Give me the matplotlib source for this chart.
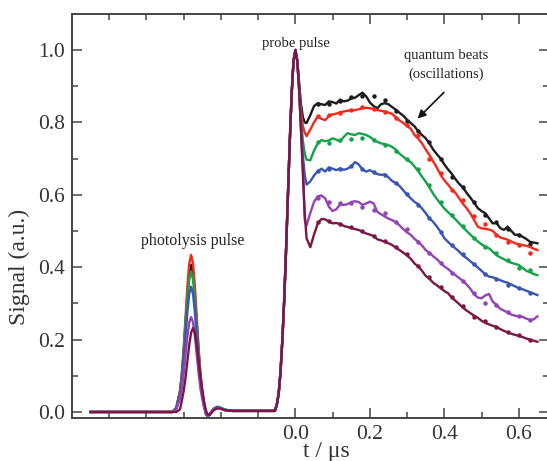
import matplotlib
matplotlib.use("Agg")
import matplotlib.pyplot as plt
from matplotlib.ticker import FixedLocator, FormatStrFormatter
import numpy as np

matplotlib.rcParams['font.family'] = 'Liberation Serif'

# --------------------------------------
# Data
# --------------------------------------
# photolysis pulse region
t_photo = [-0.55, -0.33, -0.32, -0.31, -0.305, -0.30, -0.295, -0.29, -0.285, -0.28,
           -0.275, -0.27, -0.265, -0.26, -0.255, -0.25, -0.245, -0.24, -0.235, -0.23,
           -0.22, -0.21, -0.20, -0.19, -0.17]
# probe pulse region
t_probe = [-0.055, -0.05, -0.045, -0.04, -0.035, -0.03, -0.025, -0.02, -0.015, -0.01,
           -0.005, 0.0, 0.005, 0.01, 0.015, 0.02, 0.025]
# after the probe pulse (fit curves)
t_post = np.linspace(0.03, 0.65, 63)
# measured points
t_dots = np.linspace(0.06, 0.63, 20)

colors = ["#1c1c1c", "#f5281c", "#14a34a", "#3a55b4", "#9243b5", "#7c1745"]

photo_black = [0.0, 0.0, 0.011, 0.055, 0.101, 0.167, 0.246, 0.325, 0.384, 0.406, 0.384, 0.325, 0.246,
               0.167, 0.101, 0.055, 0.018, -0.006, -0.012, -0.006, 0.008, 0.013, 0.010, 0.006, 0.003]
photo_red = [0.0, 0.0, 0.012, 0.059, 0.108, 0.178, 0.263, 0.348, 0.410, 0.434, 0.410, 0.348, 0.263,
             0.178, 0.108, 0.059, 0.020, -0.005, -0.012, -0.006, 0.008, 0.013, 0.010, 0.006, 0.003]
photo_green = [0.0, 0.0, 0.011, 0.052, 0.097, 0.159, 0.236, 0.311, 0.367, 0.388, 0.367, 0.311, 0.236,
               0.159, 0.097, 0.052, 0.017, -0.006, -0.012, -0.006, 0.009, 0.015, 0.012, 0.007, 0.003]
photo_blue = [0.0, 0.0, 0.010, 0.047, 0.086, 0.142, 0.210, 0.277, 0.327, 0.346, 0.327, 0.277, 0.210,
              0.142, 0.086, 0.047, 0.015, -0.006, -0.013, -0.007, 0.008, 0.013, 0.010, 0.006, 0.003]
photo_purple = [0.0, 0.0, 0.007, 0.035, 0.065, 0.108, 0.159, 0.210, 0.248, 0.262, 0.248, 0.210, 0.159,
                0.108, 0.065, 0.035, 0.012, -0.006, -0.012, -0.006, 0.007, 0.012, 0.009, 0.005, 0.003]
photo_maroon = [0.0, 0.0, 0.0, 0.007, 0.031, 0.058, 0.095, 0.141, 0.186, 0.219, 0.232, 0.219, 0.186,
                0.141, 0.095, 0.058, 0.028, 0.004, -0.008, -0.008, 0.004, 0.010, 0.009, 0.005, 0.003]

probe_black = [0.003, 0.02, 0.05, 0.11, 0.20, 0.31, 0.45, 0.60, 0.75, 0.88, 0.97, 1.0, 0.97, 0.91, 0.85, 0.815, 0.80]
probe_red = [0.003, 0.02, 0.05, 0.11, 0.20, 0.31, 0.45, 0.60, 0.75, 0.88, 0.97, 1.0, 0.97, 0.90, 0.83, 0.79, 0.772]
probe_green = [0.003, 0.02, 0.05, 0.11, 0.20, 0.31, 0.45, 0.60, 0.75, 0.88, 0.97, 1.0, 0.97, 0.90, 0.81, 0.75, 0.715]
probe_blue = [0.003, 0.02, 0.05, 0.11, 0.20, 0.31, 0.45, 0.60, 0.75, 0.88, 0.97, 1.0, 0.97, 0.89, 0.79, 0.71, 0.655]
probe_purple = [0.003, 0.02, 0.05, 0.11, 0.20, 0.31, 0.45, 0.60, 0.75, 0.88, 0.97, 1.0, 0.97, 0.89, 0.78, 0.68, 0.53]
probe_maroon = [0.003, 0.02, 0.05, 0.11, 0.20, 0.31, 0.45, 0.60, 0.75, 0.88, 0.97, 1.0, 0.97, 0.89, 0.78, 0.66, 0.55]

post_black = [0.798, 0.820, 0.845, 0.853, 0.850, 0.848, 0.858, 0.856, 0.852, 0.863,
              0.858, 0.860, 0.866, 0.868, 0.875, 0.882, 0.872, 0.855, 0.845, 0.839,
              0.850, 0.853, 0.850, 0.842, 0.835, 0.826, 0.818, 0.807, 0.798, 0.789,
              0.775, 0.765, 0.756, 0.742, 0.725, 0.712, 0.700, 0.684, 0.670, 0.658,
              0.643, 0.630, 0.620, 0.605, 0.592, 0.578, 0.563, 0.555, 0.549, 0.535,
              0.521, 0.522, 0.508, 0.503, 0.512, 0.500, 0.489, 0.490, 0.484, 0.478,
              0.470, 0.468, 0.466]
post_red = [0.762, 0.780, 0.800, 0.816, 0.810, 0.806, 0.818, 0.822, 0.824, 0.828,
            0.830, 0.832, 0.834, 0.834, 0.836, 0.839, 0.840, 0.839, 0.837, 0.834,
            0.832, 0.830, 0.827, 0.823, 0.814, 0.805, 0.798, 0.790, 0.782, 0.765,
            0.755, 0.742, 0.725, 0.710, 0.692, 0.675, 0.655, 0.640, 0.628, 0.615,
            0.605, 0.590, 0.575, 0.563, 0.548, 0.530, 0.512, 0.507, 0.506, 0.504,
            0.500, 0.490, 0.482, 0.479, 0.476, 0.471, 0.466, 0.463, 0.461, 0.459,
            0.456, 0.451, 0.447]
post_green = [0.697, 0.695, 0.722, 0.742, 0.751, 0.748, 0.750, 0.756, 0.752, 0.747,
              0.760, 0.770, 0.767, 0.765, 0.770, 0.768, 0.765, 0.760, 0.752, 0.746,
              0.742, 0.740, 0.737, 0.732, 0.724, 0.713, 0.705, 0.696, 0.690, 0.678,
              0.665, 0.650, 0.636, 0.620, 0.603, 0.588, 0.575, 0.562, 0.552, 0.542,
              0.532, 0.521, 0.510, 0.500, 0.490, 0.480, 0.471, 0.463, 0.457, 0.452,
              0.443, 0.433, 0.427, 0.422, 0.416, 0.412, 0.409, 0.406, 0.398, 0.390,
              0.386, 0.381, 0.378]
post_blue = [0.628, 0.637, 0.653, 0.665, 0.672, 0.664, 0.676, 0.672, 0.668, 0.673,
             0.669, 0.672, 0.679, 0.690, 0.684, 0.670, 0.664, 0.668, 0.662, 0.657,
             0.655, 0.656, 0.648, 0.638, 0.632, 0.624, 0.612, 0.600, 0.590, 0.580,
             0.574, 0.562, 0.549, 0.535, 0.525, 0.512, 0.498, 0.480, 0.470, 0.460,
             0.452, 0.443, 0.432, 0.425, 0.416, 0.408, 0.399, 0.390, 0.380, 0.374,
             0.372, 0.368, 0.364, 0.360, 0.357, 0.352, 0.347, 0.342, 0.339, 0.335,
             0.331, 0.327, 0.323]
post_purple = [0.515, 0.550, 0.580, 0.596, 0.598, 0.590, 0.567, 0.555, 0.560, 0.573,
               0.572, 0.574, 0.580, 0.582, 0.580, 0.572, 0.576, 0.581, 0.576, 0.553,
               0.546, 0.540, 0.534, 0.530, 0.524, 0.515, 0.505, 0.496, 0.489, 0.478,
               0.470, 0.460, 0.447, 0.440, 0.430, 0.422, 0.412, 0.402, 0.395, 0.386,
               0.378, 0.370, 0.362, 0.352, 0.340, 0.325, 0.316, 0.314, 0.322, 0.326,
               0.305, 0.296, 0.285, 0.280, 0.275, 0.269, 0.266, 0.264, 0.263, 0.258,
               0.254, 0.256, 0.264]
post_maroon = [0.480, 0.455, 0.490, 0.520, 0.533, 0.532, 0.526, 0.521, 0.522, 0.519,
               0.514, 0.511, 0.508, 0.505, 0.503, 0.498, 0.493, 0.490, 0.486, 0.477,
               0.474, 0.470, 0.466, 0.461, 0.454, 0.447, 0.440, 0.432, 0.423, 0.410,
               0.402, 0.390, 0.376, 0.368, 0.357, 0.350, 0.342, 0.334, 0.328, 0.316,
               0.307, 0.298, 0.288, 0.280, 0.273, 0.266, 0.260, 0.252, 0.246, 0.242,
               0.238, 0.235, 0.229, 0.224, 0.220, 0.216, 0.213, 0.210, 0.207, 0.203,
               0.200, 0.197, 0.194]

dots_black = [0.850, 0.852, 0.860, 0.870, 0.874, 0.872, 0.862, 0.832, 0.805, 0.775,
              0.745, 0.700, 0.650, 0.622, 0.580, 0.545, 0.525, 0.505, 0.488, 0.465]
dots_red = [0.818, 0.820, 0.826, 0.835, 0.842, 0.838, 0.828, 0.812, 0.792, 0.765,
            0.700, 0.660, 0.612, 0.585, 0.540, 0.520, 0.490, 0.470, 0.460, 0.440]
dots_green = [0.745, 0.744, 0.750, 0.755, 0.757, 0.750, 0.738, 0.722, 0.700, 0.672,
              0.628, 0.580, 0.545, 0.515, 0.480, 0.455, 0.438, 0.420, 0.398, 0.392]
dots_blue = [0.665, 0.672, 0.672, 0.680, 0.672, 0.663, 0.655, 0.632, 0.602, 0.572,
             0.535, 0.498, 0.462, 0.435, 0.408, 0.382, 0.368, 0.352, 0.342, 0.330]
dots_purple = [0.590, 0.581, 0.576, 0.576, 0.567, 0.558, 0.549, 0.525, 0.505, 0.470,
               0.440, 0.412, 0.385, 0.362, 0.330, 0.300, 0.295, 0.275, 0.265, 0.255]
dots_maroon = [0.525, 0.527, 0.520, 0.510, 0.500, 0.487, 0.472, 0.455, 0.435, 0.402,
               0.372, 0.345, 0.318, 0.292, 0.262, 0.250, 0.235, 0.220, 0.212, 0.200]

photo = [photo_black, photo_red, photo_green, photo_blue, photo_purple, photo_maroon]
probe = [probe_black, probe_red, probe_green, probe_blue, probe_purple, probe_maroon]
post = [post_black, post_red, post_green, post_blue, post_purple, post_maroon]
dots = [dots_black, dots_red, dots_green, dots_blue, dots_purple, dots_maroon]

# --------------------------------------
# Plot
# --------------------------------------
fig = plt.figure(figsize=(5.47, 4.61), dpi=100)
ax = fig.add_axes([0.1316, 0.0933, 0.872, 0.8764])

t_all = np.concatenate([t_photo, t_probe, t_post])
for c, p1, p2, p3, d in zip(colors, photo, probe, post, dots):
    y_all = np.concatenate([p1, p2, p3])
    ax.plot(t_all, y_all, color=c, lw=1.7, solid_joinstyle="round")
    ax.plot(t_dots, d, "o", color=c, ms=3.2, mec="none")

ax.set_xlim(-0.600, 0.681)
ax.set_ylim(-0.0166, 1.0994)

ax.xaxis.set_major_locator(FixedLocator([0.0, 0.2, 0.4, 0.6]))
ax.xaxis.set_minor_locator(FixedLocator([-0.5, -0.4, -0.3, -0.2, -0.1, 0.1, 0.3, 0.5]))
ax.yaxis.set_major_locator(FixedLocator([0.0, 0.2, 0.4, 0.6, 0.8, 1.0]))
ax.yaxis.set_minor_locator(FixedLocator([0.1, 0.3, 0.5, 0.7, 0.9]))
ax.xaxis.set_major_formatter(FormatStrFormatter("%.1f"))
ax.yaxis.set_major_formatter(FormatStrFormatter("%.1f"))

ax.tick_params(which="both", direction="in", top=True, right=True,
               color="#444444", labelcolor="#333333", labelsize=15.5, width=1.1)
ax.tick_params(which="major", length=7, pad=5)
ax.tick_params(which="minor", length=4)
for s in ax.spines.values():
    s.set_color("#444444")
    s.set_linewidth(1.4)

ax.set_xlabel("t / μs", fontsize=17, color="#333333")
ax.set_ylabel("Signal (a.u.)", fontsize=17, color="#333333")
ax.xaxis.set_label_coords(0.534, -0.058)
ax.yaxis.set_label_coords(-0.087, 0.374)

# --------------------------------------
# Annotations
# --------------------------------------
ax.text(-0.275, 0.472, "photolysis pulse", ha="center", va="center", fontsize=11.5, color="#222222")
ax.text(0.0, 1.019, "probe pulse", ha="center", va="center", fontsize=10.5, color="#222222")
ax.text(0.404, 0.958, "quantum beats\n(oscillations)", ha="center", va="center",
        fontsize=10.5, color="#222222", linespacing=1.5)
ax.annotate("", xy=(0.323, 0.805), xytext=(0.404, 0.888),
            arrowprops=dict(arrowstyle="-|>", color="#111111", lw=1.2, mutation_scale=12))

fig.savefig("out.png", dpi=100)
